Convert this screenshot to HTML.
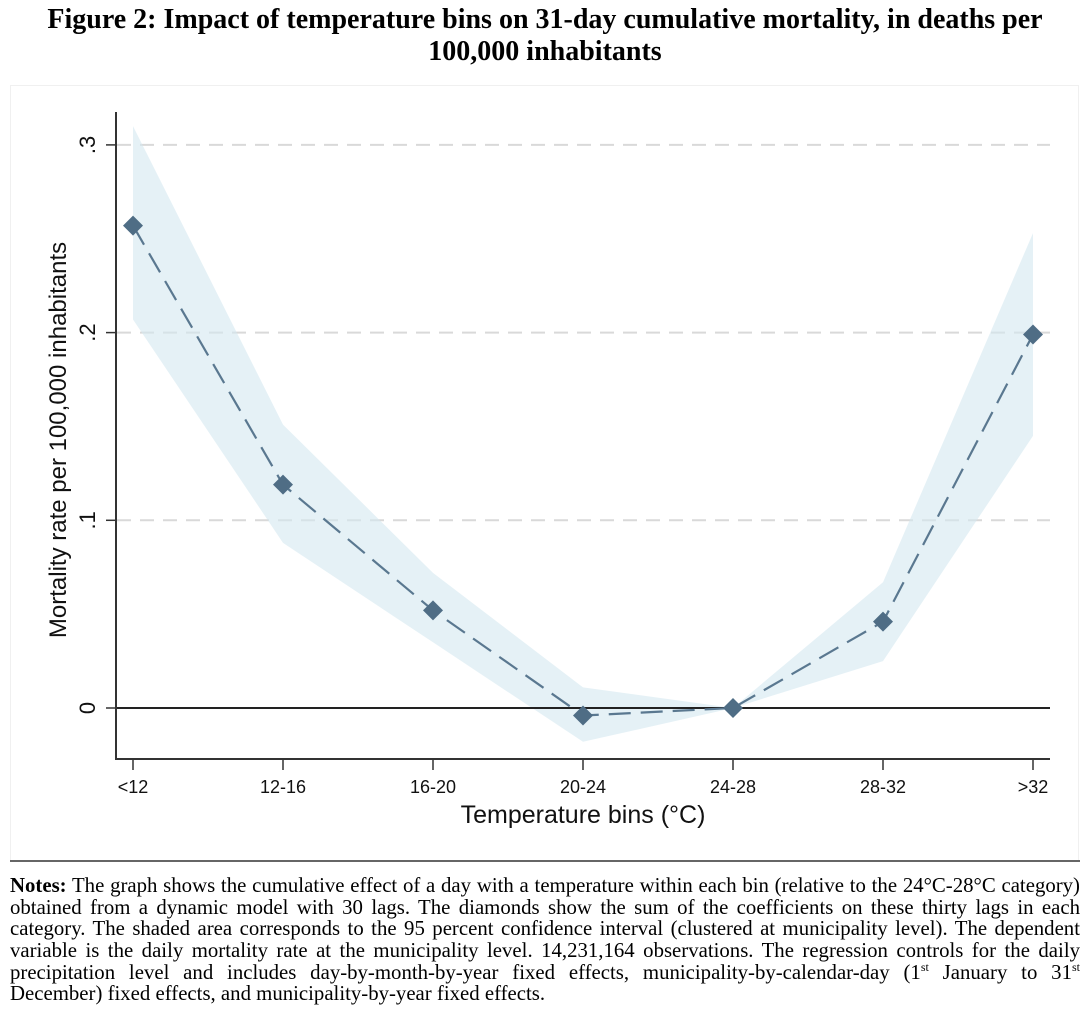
<!DOCTYPE html>
<html><head><meta charset="utf-8">
<style>
body{margin:0;width:1090px;height:1032px;background:#fff;position:relative;overflow:hidden;font-family:"Liberation Serif",serif;}
#title{position:absolute;left:0;top:4px;width:1090px;text-align:center;font-weight:bold;font-size:28px;line-height:32px;}
#notes{position:absolute;left:10px;top:875px;width:1070px;font-size:20.8px;line-height:21.7px;}
.ln{display:block;height:21.7px;text-align:justify;text-align-last:justify;white-space:nowrap;}
.ln.last{text-align-last:left;}
sup{font-size:12px;line-height:0;}
</style></head><body>
<div id="title">Figure 2: Impact of temperature bins on 31-day cumulative mortality, in deaths per<br>100,000 inhabitants</div>
<svg id="chart" width="1090" height="870" style="position:absolute;left:0;top:0" font-family="Liberation Sans, sans-serif"></svg>
<div id="notes">
<span class="ln"><b>Notes:</b> The graph shows the cumulative effect of a day with a temperature within each bin (relative to the 24°C-28°C category)</span>
<span class="ln">obtained from a dynamic model with 30 lags. The diamonds show the sum of the coefficients on these thirty lags in each</span>
<span class="ln">category. The shaded area corresponds to the 95 percent confidence interval (clustered at municipality level). The dependent</span>
<span class="ln">variable is the daily mortality rate at the municipality level. 14,231,164 observations. The regression controls for the daily</span>
<span class="ln">precipitation level and includes day-by-month-by-year fixed effects, municipality-by-calendar-day (1<sup>st</sup> January to 31<sup>st</sup></span>
<span class="ln last">December) fixed effects, and municipality-by-year fixed effects.</span>
</div>
<script>
const categories=["<12","12-16","16-20","20-24","24-28","28-32",">32"];
const estimates=[0.257,0.119,0.052,-0.004,0,0.046,0.199];
const ciUpper=[0.31,0.151,0.072,0.011,0,0.067,0.253];
const ciLower=[0.207,0.088,0.035,-0.018,0,0.025,0.145];
const yTicks=[0,0.1,0.2,0.3];
const yTickLabels=["0",".1",".2",".3"];

const svg=document.getElementById('chart');
const NS="http://www.w3.org/2000/svg";
function x(i){return 133+i*150;}
function y(v){return 708-v*1877;}
function mk(tag,attrs,parent){const e=document.createElementNS(NS,tag);for(const k in attrs)e.setAttribute(k,attrs[k]);(parent||svg).appendChild(e);return e;}

let e=mk('rect',{x:10.5,y:85.5,width:1068,height:776,fill:'none',stroke:'#f0f0f0'});



yTicks.forEach((t,i)=>{
  if(t!==0){const g=mk('line',{x1:117,x2:1050,y1:y(t),y2:y(t),stroke:'#d9d9d9','stroke-width':2,'stroke-dasharray':'14,9'});
  
  }
  const tk=mk('line',{x1:106,x2:117,y1:y(t),y2:y(t),stroke:'#333','stroke-width':1.5});
  
  
  const lb=mk('text',{x:0,y:0,'font-size':22,'text-anchor':'middle',fill:'#111',transform:`translate(95,${y(t)}) rotate(-90)`});
  lb.textContent=yTickLabels[i];
  
  
});

let pts=categories.map((c,i)=>x(i)+','+y(ciUpper[i])).join(' ')+' '+categories.map((c,i)=>x(i)+','+y(ciLower[i])).reverse().join(' ');
e=mk('polygon',{points:pts,fill:'#d4e8f0','fill-opacity':0.6});



e=mk('line',{x1:117,x2:1050,y1:y(0),y2:y(0),stroke:'#222','stroke-width':2});



e=mk('polyline',{points:categories.map((c,i)=>x(i)+','+y(estimates[i])).join(' '),fill:'none',stroke:'#5a7890','stroke-width':2.2,'stroke-dasharray':'22,10'});



categories.forEach((c,i)=>{
  const d=mk('polygon',{points:`${x(i)},${y(estimates[i])-10} ${x(i)+10},${y(estimates[i])} ${x(i)},${y(estimates[i])+10} ${x(i)-10},${y(estimates[i])}`,fill:'#4f6d85'});
  
  
  const tk=mk('line',{x1:x(i),x2:x(i),y1:759,y2:770,stroke:'#333','stroke-width':1.5});
  
  
  const lb=mk('text',{x:x(i),y:793,'font-size':18,'text-anchor':'middle',fill:'#111'});
  lb.textContent=c;
  
  
});

e=mk('polyline',{points:'116,112 116,759 1050,759',fill:'none',stroke:'#333','stroke-width':2});



e=mk('text',{x:583,y:823,'font-size':25,'text-anchor':'middle',fill:'#111'});
e.textContent='Temperature bins (°C)';



e=mk('text',{x:0,y:0,'font-size':24,'text-anchor':'middle',fill:'#111',transform:'translate(66,440) rotate(-90)'});
e.textContent='Mortality rate per 100,000 inhabitants';



e=mk('line',{x1:10,x2:1080,y1:861,y2:861,stroke:'#666','stroke-width':2});


</script>
</body></html>
